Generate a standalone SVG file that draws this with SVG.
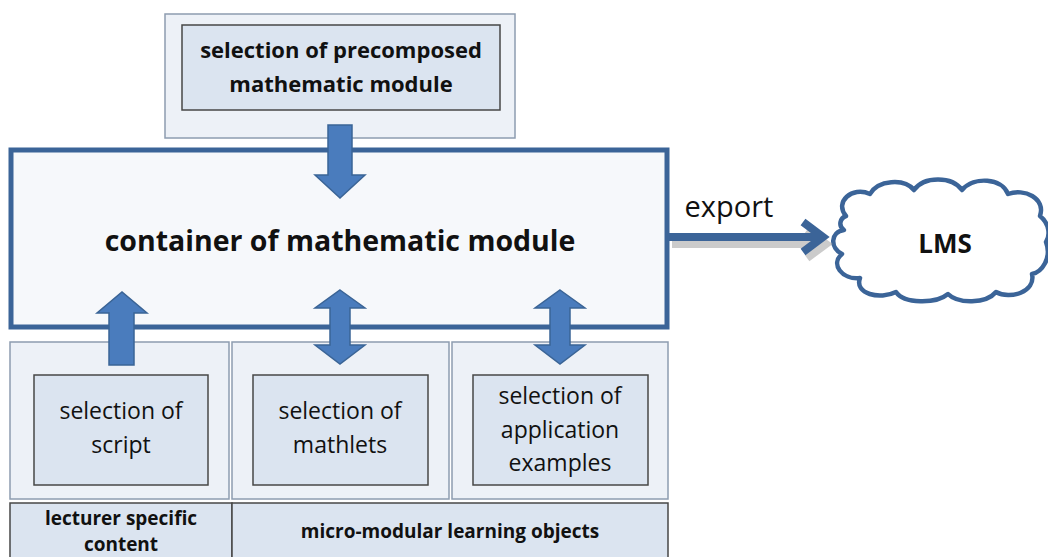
<svg xmlns="http://www.w3.org/2000/svg" width="1048" height="557" viewBox="0 0 1048 557">
  <style>
    .outer { fill: #edf1f7; stroke: #8d9cb0; stroke-width: 1.5; }
    .inner { fill: #dbe4f0; stroke: #474747; stroke-width: 1.5; }
    .label { fill: #dbe4f0; stroke: #474747; stroke-width: 1.5; }
    .arrow { fill: #4a7cbd; stroke: #3a6496; stroke-width: 1.5; }
    .t { font-family: "Open Sans", "Liberation Sans", sans-serif; fill: #111; text-anchor: middle; }
    .b { font-weight: bold; }
  </style>

  <!-- top selection node -->
  <g id="precomposed">
    <rect class="outer" x="165" y="14" width="350" height="124"/>
    <rect class="inner" x="182" y="25" width="318" height="85"/>
    <text class="t b" x="341" y="58" font-size="22">selection of precomposed</text>
    <text class="t b" x="341" y="92" font-size="22">mathematic module</text>
  </g>

  <!-- container -->
  <g id="container">
    <rect x="11" y="150" width="656" height="177" fill="#f6f8fb" stroke="#3b6498" stroke-width="5"/>
    <text class="t b" x="340" y="251" font-size="28.5">container of mathematic module</text>
  </g>

  <!-- bottom columns -->
  <g id="script">
    <rect class="outer" x="10" y="342" width="219" height="157"/>
    <rect class="inner" x="34" y="375" width="174" height="110"/>
    <text class="t" x="121" y="419" font-size="23">selection of</text>
    <text class="t" x="121" y="453" font-size="23">script</text>
  </g>
  <g id="mathlets">
    <rect class="outer" x="232" y="342" width="217" height="157"/>
    <rect class="inner" x="253" y="375" width="175" height="110"/>
    <text class="t" x="340" y="419" font-size="23">selection of</text>
    <text class="t" x="340" y="453" font-size="23">mathlets</text>
  </g>
  <g id="examples">
    <rect class="outer" x="452" y="342" width="216" height="157"/>
    <rect class="inner" x="473" y="375" width="175" height="110"/>
    <text class="t" x="560" y="404" font-size="23">selection of</text>
    <text class="t" x="560" y="438" font-size="23">application</text>
    <text class="t" x="560" y="471" font-size="23">examples</text>
  </g>

  <!-- category labels -->
  <g id="lecturer-content">
    <rect class="label" x="10" y="503" width="222" height="56"/>
    <text class="t b" x="121" y="525" font-size="19">lecturer specific</text>
    <text class="t b" x="121" y="551" font-size="19">content</text>
  </g>
  <g id="micro-modular">
    <rect class="label" x="232" y="503" width="436" height="56"/>
    <text class="t b" x="450" y="538" font-size="19">micro-modular learning objects</text>
  </g>

  <!-- LMS cloud -->
  <g id="lms">
    <path d="M 846 216
             C 834 202, 852 186, 870 194
             C 878 180, 904 178, 914 190
             C 924 176, 952 176, 962 190
             C 974 176, 1002 178, 1008 194
             C 1024 188, 1046 198, 1040 216
             C 1050 224, 1050 236, 1046 242
             C 1052 258, 1042 272, 1032 274
             C 1036 292, 1010 300, 996 292
             C 986 304, 958 304, 948 294
             C 936 304, 904 304, 896 292
             C 880 300, 854 294, 860 278
             C 842 280, 830 264, 842 254
             C 830 248, 830 232, 844 230
             C 838 226, 840 218, 846 216 Z"
          fill="#ffffff" stroke="#3b6498" stroke-width="4.5" stroke-linejoin="round"/>
    <text class="t b" x="945" y="253" font-size="26">LMS</text>
  </g>

  <!-- connectors -->
  <g id="connectors">
    <!-- precomposed module into container -->
    <path class="arrow" d="M 328 125 H 352 V 175 H 365 L 340 198 L 315 175 H 328 Z"/>
    <!-- script up into container -->
    <path class="arrow" d="M 109 365 V 313 H 97 L 122 292 L 147 313 H 134 V 365 Z"/>
    <!-- mathlets two-way -->
    <path class="arrow" d="M 340 290 L 365 308 H 350 V 345 H 365 L 340 364 L 315 345 H 330 V 308 H 315 Z"/>
    <!-- application examples two-way -->
    <path class="arrow" d="M 560 290 L 585 308 H 570 V 345 H 585 L 560 364 L 535 345 H 550 V 308 H 535 Z"/>
    <!-- export to LMS -->
    <g id="export">
      <path d="M 670 240 H 818 M 805 226 L 824 240 L 805 254" fill="none" stroke="#a0a0a0" stroke-width="8" opacity="0.55" transform="translate(2,4)"/>
      <path d="M 668 237 H 818 M 803 222 L 823 237 L 803 252" fill="none" stroke="#3b6498" stroke-width="8" stroke-linejoin="miter"/>
      <text class="t" x="729" y="217" font-size="29">export</text>
    </g>
  </g>
</svg>
